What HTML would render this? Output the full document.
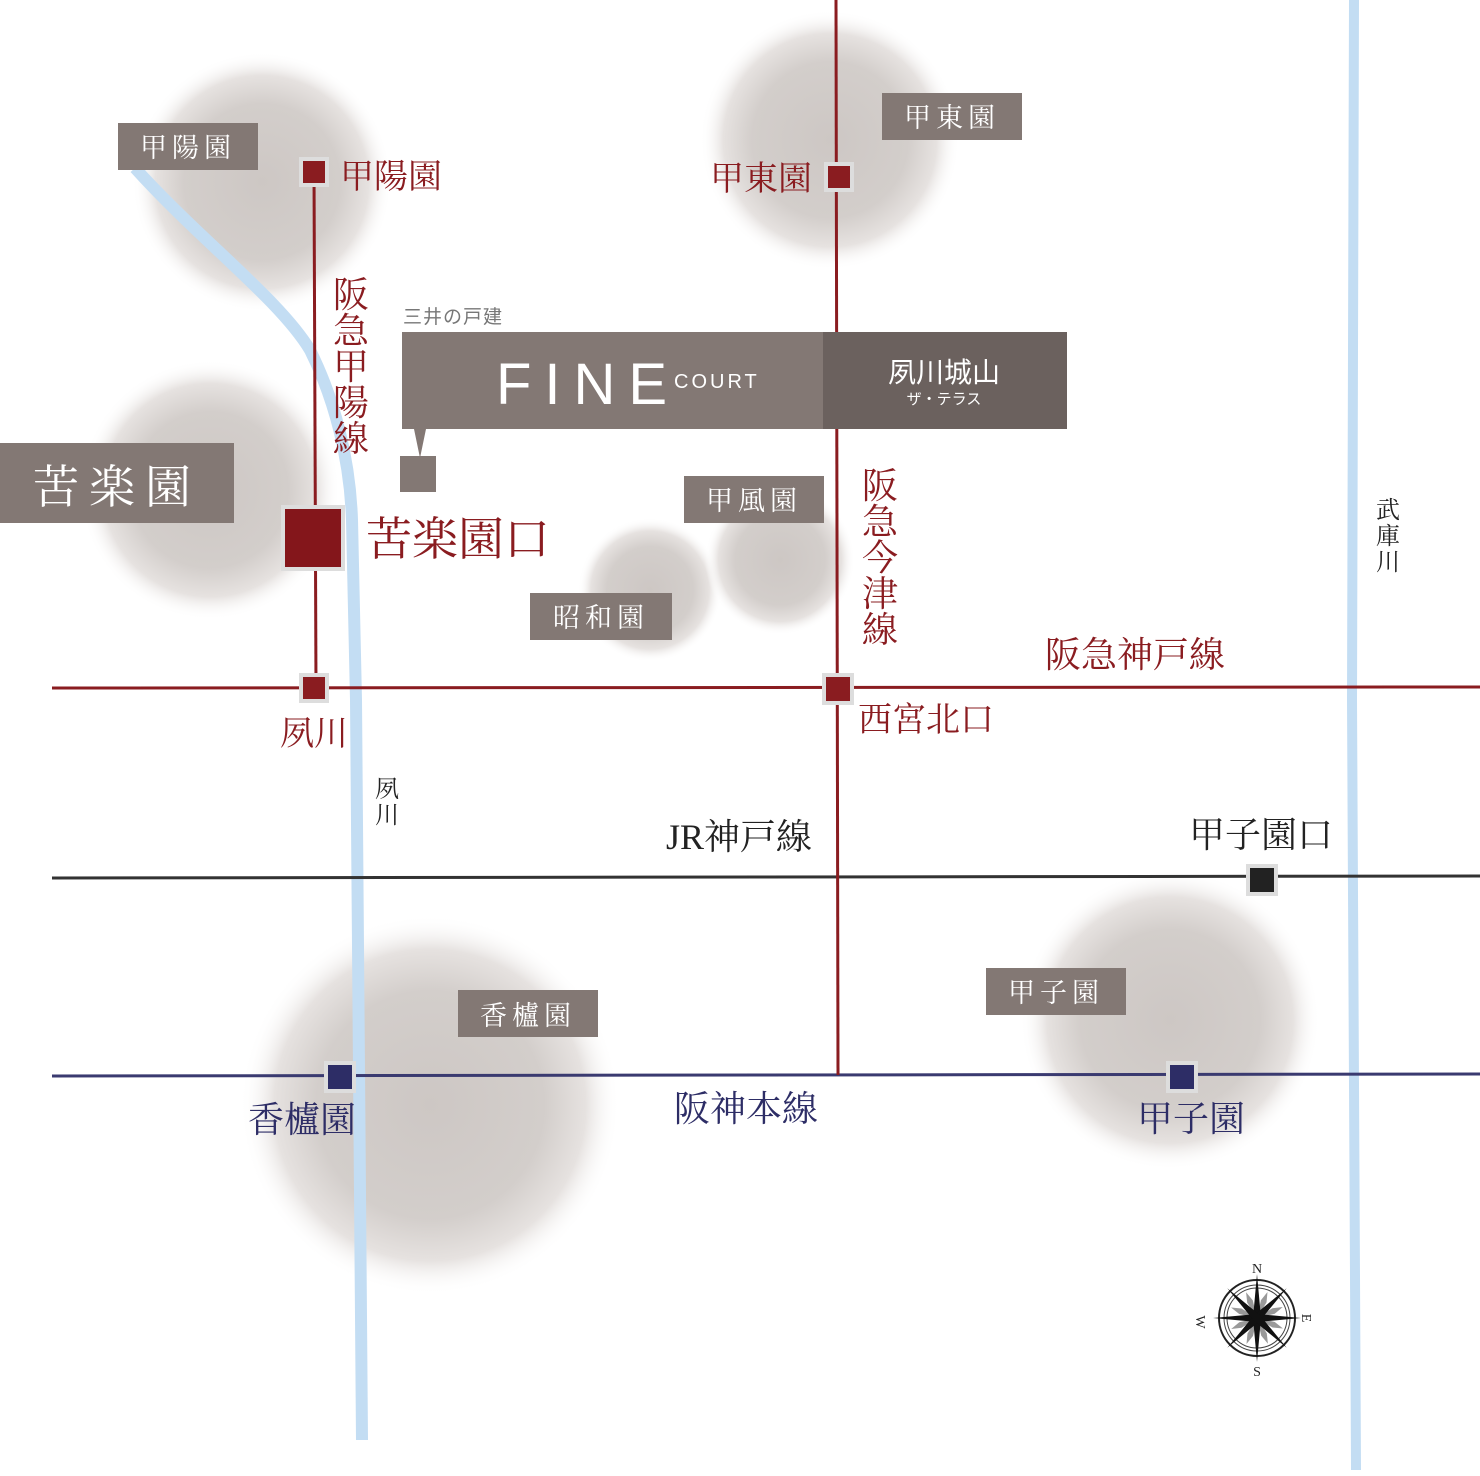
<!DOCTYPE html>
<html><head><meta charset="utf-8"><style>
body{margin:0;background:#fff}
svg{display:block}
text{font-family:"Liberation Serif","Noto Serif CJK SC",serif}
.s{font-family:"Liberation Sans","Noto Sans CJK JP",sans-serif}
</style></head><body>
<svg width="1480" height="1476" viewBox="0 0 1480 1476" xmlns="http://www.w3.org/2000/svg">
<defs>
<radialGradient id="g"><stop offset="0" stop-color="#cdc7c4"/><stop offset="0.6" stop-color="#d3cecb"/><stop offset="0.82" stop-color="#e6e2e0"/><stop offset="1" stop-color="#fff" stop-opacity="0"/></radialGradient>
</defs>
<rect width="1480" height="1476" fill="#fff"/>
<circle cx="262" cy="182" r="130" fill="url(#g)"/>
<circle cx="210" cy="490" r="130" fill="url(#g)"/>
<circle cx="830" cy="140" r="130" fill="url(#g)"/>
<circle cx="650" cy="590" r="72" fill="url(#g)"/>
<circle cx="780" cy="560" r="75" fill="url(#g)"/>
<circle cx="430" cy="1105" r="190" fill="url(#g)"/>
<circle cx="1170" cy="1020" r="150" fill="url(#g)"/>
<!-- rivers -->
<path d="M135 168 C200 240 280 300 310 350 C335 400 350 460 352 520 L356 700 L362 1440" fill="none" stroke="#c3ddf3" stroke-width="12"/>
<path d="M1354 0 L1352 700 L1356 1470" fill="none" stroke="#c3ddf3" stroke-width="10"/>
<!-- rail lines -->
<line x1="52" y1="688" x2="1480" y2="687" stroke="#8a1c20" stroke-width="3"/>
<line x1="52" y1="878" x2="1480" y2="876" stroke="#333" stroke-width="3"/>
<line x1="52" y1="1076" x2="1480" y2="1074" stroke="#3a3a70" stroke-width="3"/>
<line x1="314" y1="170" x2="316" y2="690" stroke="#8a1c20" stroke-width="3"/>
<line x1="836" y1="0" x2="838" y2="1075" stroke="#8a1c20" stroke-width="3"/>
<!-- stations -->
<g stroke="#ddd" stroke-width="4">
<rect x="301" y="159" width="26" height="26" fill="#8a1c20"/>
<rect x="826" y="164" width="26" height="26" fill="#8a1c20"/>
<rect x="283" y="507" width="60" height="62" fill="#84161b"/>
<rect x="301" y="675" width="26" height="26" fill="#8a1c20"/>
<rect x="824" y="675" width="28" height="28" fill="#8a1c20"/>
<rect x="1248" y="866" width="28" height="28" fill="#222"/>
<rect x="326" y="1063" width="28" height="28" fill="#2d2d66"/>
<rect x="1168" y="1063" width="28" height="28" fill="#2d2d66"/>
</g>
<!-- gray labels -->
<g fill="#837874">
<rect x="118" y="123" width="140" height="47"/>
<rect x="882" y="93" width="140" height="47"/>
<rect x="0" y="443" width="234" height="80"/>
<rect x="684" y="476" width="140" height="47"/>
<rect x="530" y="593" width="142" height="47"/>
<rect x="458" y="990" width="140" height="47"/>
<rect x="986" y="968" width="140" height="47"/>
<rect x="402" y="332" width="422" height="97"/>
<rect x="400" y="456" width="36" height="36"/>
<polygon points="414,429 426,429 420,458"/>
</g>
<rect x="823" y="332" width="244" height="97" fill="#6b615e"/>
<g fill="#fff" font-size="27">
<text x="188" y="157" text-anchor="middle" letter-spacing="5">甲陽園</text>
<text x="952" y="127" text-anchor="middle" letter-spacing="5">甲東園</text>
<text x="117" y="503" text-anchor="middle" font-size="46" letter-spacing="10">苦楽園</text>
<text x="754" y="510" text-anchor="middle" letter-spacing="5">甲風園</text>
<text x="601" y="627" text-anchor="middle" letter-spacing="5">昭和園</text>
<text x="528" y="1025" text-anchor="middle" letter-spacing="5">香櫨園</text>
<text x="1056" y="1002" text-anchor="middle" letter-spacing="5">甲子園</text>
</g>
<text x="403" y="323" class="s" font-size="19" fill="#777" letter-spacing="1">三井の戸建</text>
<text x="496" y="404" class="s" font-size="58" fill="#fff" letter-spacing="13">FINE</text>
<text x="674" y="388" class="s" font-size="20" fill="#fff" letter-spacing="3">COURT</text>
<text x="944" y="382" class="s" font-size="28" fill="#fff" text-anchor="middle">夙川城山</text>
<text x="944" y="404" class="s" font-size="15" fill="#fff" text-anchor="middle">ザ・テラス</text>
<!-- red labels -->
<g fill="#8a1c20">
<text x="340" y="188" font-size="34">甲陽園</text>
<text x="710" y="190" font-size="34">甲東園</text>
<text x="366" y="555" font-size="46">苦楽園口</text>
<text x="280" y="745" font-size="34">夙川</text>
<text x="858" y="731" font-size="34">西宮北口</text>
<text x="1045" y="667" font-size="36">阪急神戸線</text>
<g font-size="36" text-anchor="middle">
<text x="351" y="307">阪</text><text x="351" y="343">急</text><text x="351" y="379">甲</text><text x="351" y="415">陽</text><text x="351" y="451">線</text>
<text x="880" y="498">阪</text><text x="880" y="534">急</text><text x="880" y="570">今</text><text x="880" y="606">津</text><text x="880" y="642">線</text>
</g>
</g>
<g fill="#222">
<text x="666" y="849" font-size="36">JR神戸線</text>
<text x="1189" y="847" font-size="36">甲子園口</text>
<g font-size="24" text-anchor="middle"><text x="387" y="797">夙</text><text x="387" y="823">川</text>
<text x="1388" y="518">武</text><text x="1388" y="544">庫</text><text x="1388" y="570">川</text></g>
</g>
<g fill="#2d2d66" font-size="36">
<text x="248" y="1132">香櫨園</text>
<text x="674" y="1121">阪神本線</text>
<text x="1137" y="1131">甲子園</text>
</g>
<!-- compass -->
<g transform="translate(1257,1318)">
<circle r="38" fill="#fff" stroke="#222" stroke-width="2"/>
<circle r="33" fill="none" stroke="#444" stroke-width="1"/>
<circle r="30" fill="none" stroke="#444" stroke-width="1"/>
<g fill="#999"><polygon points="0,0 -3,-18 0,-28 3,-18" transform="rotate(22)"/><polygon points="0,0 -3,-18 0,-28 3,-18" transform="rotate(67)"/><polygon points="0,0 -3,-18 0,-28 3,-18" transform="rotate(112)"/><polygon points="0,0 -3,-18 0,-28 3,-18" transform="rotate(157)"/><polygon points="0,0 -3,-18 0,-28 3,-18" transform="rotate(202)"/><polygon points="0,0 -3,-18 0,-28 3,-18" transform="rotate(247)"/><polygon points="0,0 -3,-18 0,-28 3,-18" transform="rotate(292)"/><polygon points="0,0 -3,-18 0,-28 3,-18" transform="rotate(337)"/></g>
<g fill="#111"><polygon points="-4,0 0,-44 4,0 0,44"/><polygon points="0,-4 44,0 0,4 -44,0"/><polygon points="-4,0 0,-42 4,0 0,42" transform="rotate(45)"/><polygon points="-4,0 0,-42 4,0 0,42" transform="rotate(-45)"/></g>
<text x="0" y="-45" font-size="14" text-anchor="middle" fill="#222">N</text>
<text x="0" y="58" font-size="14" text-anchor="middle" fill="#222">S</text>
<text x="-52" y="5" font-size="14" text-anchor="middle" fill="#222" transform="rotate(90,-56,0)">W</text>
<text x="50" y="5" font-size="14" text-anchor="middle" fill="#222" transform="rotate(90,50,0)">E</text>
</g>
</svg>
</body></html>
